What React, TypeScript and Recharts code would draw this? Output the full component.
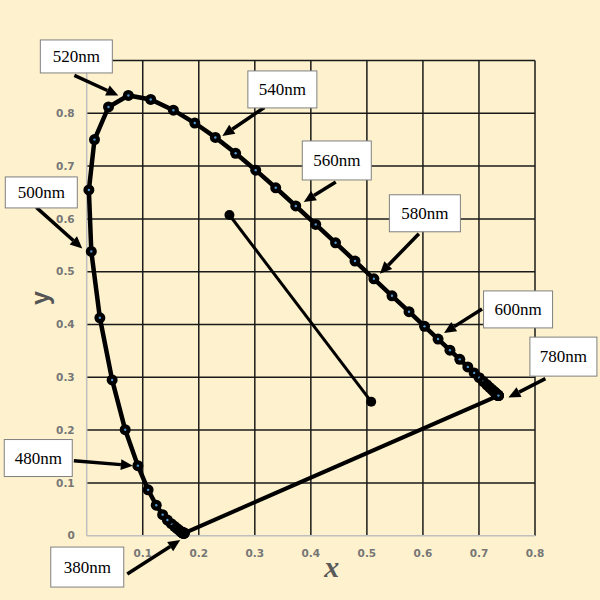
import React from 'react';
import { ScatterChart, Scatter, XAxis, YAxis, CartesianGrid, Label } from 'recharts';

// CIE 1931 spectral locus, 5 nm steps from 380 to 700 nm, then 780 nm
const wavelengths = [
  380, 385, 390, 395, 400, 405, 410, 415, 420, 425, 430, 435, 440, 445, 450, 455, 460, 465, 470, 475,
  480, 485, 490, 495, 500, 505, 510, 515, 520, 525, 530, 535, 540, 545, 550, 555, 560, 565, 570, 575,
  580, 585, 590, 595, 600, 605, 610, 615, 620, 625, 630, 635, 640, 645, 650, 655, 660, 665, 670, 675,
  680, 685, 690, 695, 700, 780,
];
const locusX = [
  0.1741, 0.174, 0.1738, 0.1736, 0.1733, 0.173, 0.1726, 0.1721, 0.1714, 0.1703, 0.1689, 0.1669, 0.1644, 0.1611, 0.1566, 0.151, 0.144, 0.1355, 0.1241, 0.1096,
  0.0913, 0.0687, 0.0454, 0.0235, 0.0082, 0.0039, 0.0139, 0.0389, 0.0743, 0.1142, 0.1547, 0.1929, 0.2296, 0.2658, 0.3016, 0.3373, 0.3731, 0.4087, 0.4441, 0.4788,
  0.5125, 0.5448, 0.5752, 0.6029, 0.627, 0.6482, 0.6658, 0.6801, 0.6915, 0.7006, 0.7079, 0.714, 0.719, 0.723, 0.726, 0.7283, 0.73, 0.7311, 0.732, 0.7327,
  0.7334, 0.734, 0.7344, 0.7346, 0.7347, 0.7347,
];
const locusY = [
  0.005, 0.005, 0.0049, 0.0049, 0.0048, 0.0048, 0.0048, 0.0048, 0.0051, 0.0058, 0.0069, 0.0086, 0.0109, 0.0138, 0.0177, 0.0227, 0.0297, 0.0399, 0.0578, 0.0868,
  0.1327, 0.2007, 0.295, 0.4127, 0.5384, 0.6548, 0.7502, 0.812, 0.8338, 0.8262, 0.8059, 0.7816, 0.7543, 0.7243, 0.6923, 0.6589, 0.6245, 0.5896, 0.5547, 0.5202,
  0.4866, 0.4544, 0.4242, 0.3965, 0.3725, 0.3514, 0.334, 0.3197, 0.3083, 0.2993, 0.292, 0.2859, 0.2809, 0.277, 0.274, 0.2717, 0.27, 0.2689, 0.268, 0.2673,
  0.2666, 0.266, 0.2656, 0.2654, 0.2653, 0.2653,
];

// line of purples: 780 nm back to 380 nm
const purpleWavelengths = [780, 380];

// the separate segment inside the locus
const segmentX = [0.2547, 0.5077];
const segmentY = [0.6074, 0.2538];

// labelled wavelengths
const calloutWavelengths = [380, 480, 500, 520, 540, 560, 580, 600, 780];

const xTicks = [0, 0.1, 0.2, 0.3, 0.4, 0.5, 0.6, 0.7, 0.8];
const yTicks = [0, 0.1, 0.2, 0.3, 0.4, 0.5, 0.6, 0.7, 0.8, 0.9];

const locusData = wavelengths.map((w, i) => ({ w, x: locusX[i], y: locusY[i] }));
const pointAt = (w: number) => locusData.find((d) => d.w === w)!;
const purpleData = purpleWavelengths.map((w) => ({ x: pointAt(w).x, y: pointAt(w).y }));
const segmentData = segmentX.map((x, i) => ({ x, y: segmentY[i] }));
const calloutData = calloutWavelengths.map((w) => ({ x: pointAt(w).x, y: pointAt(w).y, label: `${w}nm` }));

// callout geometry in px, relative to the marked point: box centre + size, arrow tail, arrow tip
const callouts: Record<string, { box: number[]; tail: number[]; tip: number[] }> = {
  '380nm': { box: [-97, 34, 73, 40], tail: [-57, 41], tip: [-4, 7] },
  '480nm': { box: [-99.6, -7.6, 68, 37], tail: [-64, -5], tip: [-5, 0] },
  '500nm': { box: [-50, -59, 72, 31], tail: [-55, -44], tip: [-9, -3] },
  '520nm': { box: [-52, -39, 72, 33], tail: [-54, -20], tip: [-10, 0] },
  '540nm': { box: [67, -48, 69, 37], tail: [49, -30], tip: [7, -1.5] },
  '560nm': { box: [41, -45.5, 69, 39], tail: [40, -24], tip: [8, -4] },
  '580nm': { box: [51, -65.5, 71, 37], tail: [45, -45], tip: [6, -5] },
  '600nm': { box: [80, -29.6, 69, 37], tail: [44, -30], tip: [6, -6] },
  '780nm': { box: [65, -39, 67, 39], tail: [47, -17], tip: [10, 2] },
};

const LocusDot = (props: any) => {
  const { cx, cy } = props;
  return (
    <g>
      <circle cx={cx} cy={cy} r={5.5} fill="#000" />
      <circle cx={cx} cy={cy} r={1.2} fill="#4f95d0" />
    </g>
  );
};

const SolidDot = (props: any) => <circle cx={props.cx} cy={props.cy} r={5} fill="#000" />;

const NoDot = () => <g />;

const Callout = (props: any) => {
  const { cx, cy, payload } = props;
  const c = callouts[payload.label];
  if (!c) return <g />;
  const [bdx, bdy, bw, bh] = c.box;
  const bx = cx + bdx;
  const by = cy + bdy;
  const tx = cx + c.tail[0];
  const ty = cy + c.tail[1];
  const hx = cx + c.tip[0];
  const hy = cy + c.tip[1];
  const len = Math.hypot(hx - tx, hy - ty);
  const ux = (hx - tx) / len;
  const uy = (hy - ty) / len;
  const hl = 12;
  const hw = 5.5;
  const baseX = hx - ux * hl;
  const baseY = hy - uy * hl;
  return (
    <g>
      <line x1={tx} y1={ty} x2={baseX} y2={baseY} stroke="#000" strokeWidth={3.5} />
      <polygon
        points={`${hx},${hy} ${baseX - uy * hw},${baseY + ux * hw} ${baseX + uy * hw},${baseY - ux * hw}`}
        fill="#000"
      />
      <rect x={bx - bw / 2} y={by - bh / 2} width={bw} height={bh} fill="#fff" stroke="#808080" strokeWidth={1} />
      <text
        x={bx}
        y={by}
        textAnchor="middle"
        dominantBaseline="central"
        fontFamily="'Liberation Serif', 'DejaVu Serif', serif"
        fontSize={17}
        fill="#000"
      >
        {payload.label}
      </text>
    </g>
  );
};

const tickFont = { fontFamily: "'DejaVu Sans', sans-serif", fontSize: 10.5, fontWeight: 700, fill: '#767676' };

const XTick = (p: any) => {
  const v = p.payload.value;
  if (v === 0) return <g />;
  return (
    <text x={p.x} y={p.y} dy="0.71em" textAnchor="middle" {...tickFont}>
      {String(v)}
    </text>
  );
};

const YTick = (p: any) => {
  const v = p.payload.value;
  if (v === 0.9) return <g />;
  return (
    <text x={p.x} y={p.y} dy="0.36em" textAnchor="end" {...tickFont}>
      {String(v)}
    </text>
  );
};

export default function App() {
  return (
    <div style={{ position: 'absolute', left: 0, top: 0, width: 600, height: 600, background: '#fdf2cd' }}>
      <ScatterChart width={600} height={600} margin={{ top: 60.5, right: 65, bottom: 24.3, left: 6.7 }}>
        <CartesianGrid
          stroke="#1a1a1a"
          strokeWidth={1.5}
          verticalValues={xTicks.filter((v) => v > 0)}
          horizontalValues={yTicks.filter((v) => v > 0)}
        />
        <XAxis
          type="number"
          dataKey="x"
          domain={[0, 0.8]}
          ticks={xTicks}
          interval={0}
          height={40}
          tickLine={false}
          tickSize={0}
          tickMargin={14}
          axisLine={{ stroke: '#bfbfbf', strokeWidth: 1.5 }}
          tick={XTick}
        >
          <Label
            content={(p: any) => {
              const vb = p.viewBox || {};
              return (
                <text
                  x={vb.x + vb.width / 2 + 21}
                  y={vb.y + 31}
                  textAnchor="middle"
                  dominantBaseline="central"
                  fontFamily="'Liberation Serif', serif"
                  fontStyle="italic"
                  fontWeight="bold"
                  fontSize={30}
                  fill="#5a5a5a"
                >
                  x
                </text>
              );
            }}
          />
        </XAxis>
        <YAxis
          type="number"
          dataKey="y"
          domain={[0, 0.9]}
          ticks={yTicks}
          interval={0}
          width={80}
          tickLine={false}
          tickSize={0}
          tickMargin={12}
          axisLine={{ stroke: '#bfbfbf', strokeWidth: 1.5 }}
          tick={YTick}
        >
          <Label
            content={(p: any) => {
              const vb = p.viewBox || {};
              const x = vb.x + 33.3;
              const y = vb.y + vb.height / 2;
              return (
                <text
                  x={x}
                  y={y}
                  transform={`rotate(-90, ${x}, ${y})`}
                  textAnchor="middle"
                  dominantBaseline="central"
                  fontFamily="'Liberation Sans', sans-serif"
                  fontWeight="bold"
                  fontSize={25}
                  fill="#555"
                >
                  y
                </text>
              );
            }}
          />
        </YAxis>
        <Scatter
          data={purpleData}
          fill="#000"
          line={{ stroke: '#000', strokeWidth: 4 }}
          shape={NoDot}
          isAnimationActive={false}
        />
        <Scatter
          data={locusData}
          fill="#000"
          line={{ stroke: '#000', strokeWidth: 4.5 }}
          shape={LocusDot}
          isAnimationActive={false}
        />
        <Scatter
          data={segmentData}
          fill="#000"
          line={{ stroke: '#000', strokeWidth: 3 }}
          shape={SolidDot}
          isAnimationActive={false}
        />
        <Scatter data={calloutData} fill="#000" shape={Callout} isAnimationActive={false} />
      </ScatterChart>
    </div>
  );
}
